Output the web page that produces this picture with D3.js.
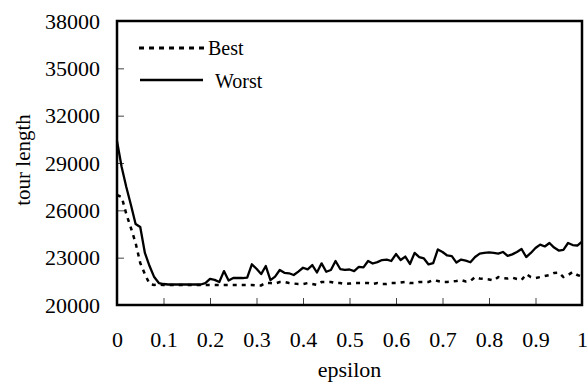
<!DOCTYPE html>
<html>
<head>
<meta charset="utf-8">
<script src="https://cdn.jsdelivr.net/npm/d3@7"></script>
<style>
  body { margin: 0; background: #fff; }
  text { font-family: 'Liberation Serif', 'Times New Roman', serif; fill: #000; }
</style>
</head>
<body>
<div id="chart"></div>
<script>
// epsilon goes 0 .. 1 in steps of 0.01
var epsilon = d3.range(0, 101).map(function(i){ return i / 100 })

var worst = [30400, 28750, 27480, 26340, 25130, 24940, 23300, 22470, 21770, 21390,
  21330, 21300, 21300, 21300, 21300, 21300, 21300, 21300, 21300, 21390,
  21650, 21590, 21460, 22150, 21550, 21710, 21710, 21710, 21740, 22580,
  22300, 21960, 22470, 21580, 21800, 22220, 22040, 22010, 21900, 22120,
  22360, 22260, 22530, 22060, 22640, 22110, 22220, 22790, 22280, 22220,
  22250, 22150, 22410, 22380, 22790, 22630, 22720, 22850, 22880, 22790,
  23230, 22850, 23070, 22600, 23300, 23040, 22950, 22570, 22660, 23520,
  23360, 23140, 23100, 22690, 22880, 22810, 22710, 23040, 23260, 23300,
  23330, 23300, 23260, 23360, 23110, 23210, 23360, 23550, 23040, 23300,
  23610, 23830, 23710, 23930, 23640, 23450, 23500, 23930, 23800, 23770,
  24020]

var best = [26970, 26850, 25770, 24880, 23930, 22660, 21960, 21330, 21270, 21300,
  21270, 21270, 21270, 21270, 21270, 21270, 21270, 21270, 21270, 21270,
  21270, 21270, 21270, 21270, 21270, 21270, 21270, 21270, 21270, 21270,
  21240, 21240, 21410, 21390, 21360, 21460, 21460, 21390, 21360, 21330,
  21330, 21390, 21330, 21270, 21460, 21460, 21460, 21390, 21390, 21330,
  21360, 21390, 21390, 21390, 21390, 21330, 21390, 21330, 21330, 21390,
  21390, 21430, 21460, 21390, 21390, 21460, 21460, 21460, 21580, 21520,
  21460, 21460, 21490, 21520, 21580, 21490, 21520, 21770, 21680, 21650,
  21620, 21550, 21770, 21710, 21680, 21740, 21650, 21580, 21960, 21770,
  21710, 21770, 21840, 21900, 22030, 22060, 21770, 21900, 22090, 21900,
  21810]

var yTicks = [20000, 23000, 26000, 29000, 32000, 35000, 38000]
var xTicks = [0, 0.1, 0.2, 0.3, 0.4, 0.5, 0.6, 0.7, 0.8, 0.9, 1]
var seriesNames = ["Best", "Worst"]

var serif = "'Liberation Serif', 'Times New Roman', serif"
var width = 588, height = 388
var margin = { top: 21, right: 6, bottom: 83, left: 117 }
var innerW = width - margin.left - margin.right
var innerH = height - margin.top - margin.bottom

var svg = d3.select("#chart").append("svg")
    .attr("width", width)
    .attr("height", height)

var g = svg.append("g").attr("transform", "translate(" + margin.left + "," + margin.top + ")")

var x = d3.scaleLinear().domain([0, 1]).range([0, innerW])
var y = d3.scaleLinear().domain([20000, 38000]).range([innerH, 0])

// y axis, ticks pointing inward
var yAxis = g.append("g")
    .call(d3.axisLeft(y).tickValues(yTicks).tickSizeInner(-7).tickSizeOuter(0).tickPadding(17).tickFormat(d3.format("d")))
    .attr("font-family", serif)
    .attr("font-size", 22)
yAxis.select(".domain").remove()
yAxis.selectAll("line").attr("stroke", "#444").attr("stroke-width", 1)

var xAxis = g.append("g")
    .attr("transform", "translate(0," + innerH + ")")
    .call(d3.axisBottom(x).tickValues(xTicks).tickSizeInner(-7).tickSizeOuter(0).tickFormat(function(d){ return String(d) }))
    .attr("font-family", serif)
    .attr("font-size", 22)
xAxis.select(".domain").remove()
xAxis.selectAll("line").attr("stroke", "#444").attr("stroke-width", 1)
xAxis.selectAll("text").attr("y", 42).attr("dy", null)

// frame
g.append("rect")
    .attr("x", 0).attr("y", 0)
    .attr("width", innerW).attr("height", innerH)
    .attr("fill", "none")
    .attr("stroke", "#000")
    .attr("stroke-width", 2.5)

var line = d3.line()
    .x(function(d){ return x(d[0]) })
    .y(function(d){ return y(d[1]) })

g.append("path")
    .datum(epsilon.map(function(e, i){ return [e, worst[i]] }))
    .attr("fill", "none")
    .attr("stroke", "#000")
    .attr("stroke-width", 2.3)
    .attr("stroke-linejoin", "round")
    .attr("d", line)

g.append("path")
    .datum(epsilon.map(function(e, i){ return [e, best[i]] }))
    .attr("fill", "none")
    .attr("stroke", "#000")
    .attr("stroke-width", 2.5)
    .attr("stroke-dasharray", "4,5")
    .attr("d", line)

// legend
svg.append("line").attr("x1", 139).attr("x2", 205).attr("y1", 48).attr("y2", 48)
    .attr("stroke", "#000").attr("stroke-width", 3).attr("stroke-dasharray", "5,5")
svg.append("text").attr("x", 208).attr("y", 55).style("font-size", "20px").text(seriesNames[0])
svg.append("line").attr("x1", 140).attr("x2", 203).attr("y1", 80).attr("y2", 80)
    .attr("stroke", "#000").attr("stroke-width", 2.3)
svg.append("text").attr("x", 215).attr("y", 88).style("font-size", "20px").text(seriesNames[1])

// axis titles
svg.append("text")
    .attr("x", margin.left + innerW / 2)
    .attr("y", 377)
    .attr("text-anchor", "middle")
    .style("font-size", "22px")
    .text("epsilon")

svg.append("text")
    .attr("transform", "translate(30,160) rotate(-90)")
    .attr("text-anchor", "middle")
    .style("font-size", "21px")
    .text("tour length")
</script>
</body>
</html>
